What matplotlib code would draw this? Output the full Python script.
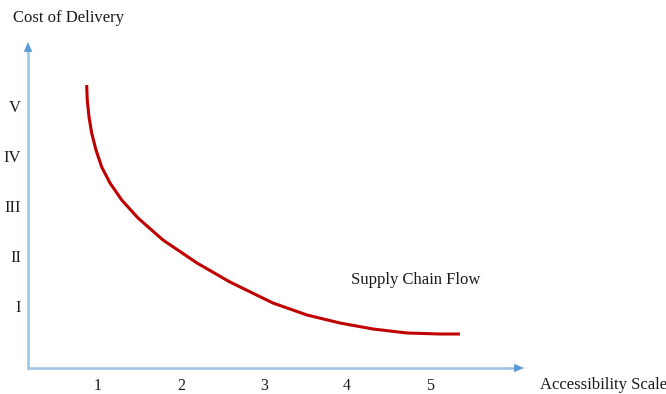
import matplotlib
matplotlib.use("Agg")
import matplotlib.pyplot as plt

# Data
curve_x = [0.864, 0.871, 0.892, 0.924, 0.976, 1.045, 1.145, 1.286, 1.482, 1.783,
           2.193, 2.590, 3.108, 3.518, 3.916, 4.313, 4.723, 5.120, 5.361]
curve_y = [5.42, 5.12, 4.78, 4.46, 4.12, 3.78, 3.46, 3.12, 2.76, 2.32,
           1.86, 1.48, 1.06, 0.82, 0.66, 0.54, 0.46, 0.44, 0.44]
x_ticks = [1, 2, 3, 4, 5]
x_labels = ["1", "2", "3", "4", "5"]
y_ticks = [1, 2, 3, 4, 5]
y_labels = ["I", "II", "III", "IV", "V"]

W, H = 666, 394
fig = plt.figure(figsize=(W / 100, H / 100), dpi=100)
plt.rcParams['font.family'] = ['Liberation Serif', 'DejaVu Serif']

ax = fig.add_axes([28 / W, 26 / H, (524 - 28) / W, (368 - 42) / H])
ax.set_xlim(0.157, 0.157 + 496 / 83)
ax.set_ylim(-0.24, 6.28)
for s in ax.spines.values():
    s.set_visible(False)
ax.patch.set_alpha(0)

ax.plot(curve_x, curve_y, color="#C00000", lw=2.2, solid_capstyle="butt",
        solid_joinstyle="round", zorder=3)

axis_line = "#9DC3E6"
head = "#5B9BD5"
ax.plot([0, 0.985], [0, 0], transform=ax.transAxes, color=axis_line, lw=1.8, clip_on=False)
ax.plot([0, 0], [0, 0.975], transform=ax.transAxes, color=axis_line, lw=1.8, clip_on=False)
ax.annotate("", xy=(1.0, 0), xytext=(0.97, 0), xycoords="axes fraction",
            arrowprops=dict(arrowstyle="-|>,head_length=0.7,head_width=0.3",
                            color=head, lw=0.1, shrinkA=0, shrinkB=0))
ax.annotate("", xy=(0, 1.0), xytext=(0, 0.96), xycoords="axes fraction",
            arrowprops=dict(arrowstyle="-|>,head_length=0.7,head_width=0.3",
                            color=head, lw=0.1, shrinkA=0, shrinkB=0))

ax.set_xticks(x_ticks)
ax.set_xticklabels(x_labels)
ax.set_yticks(y_ticks)
ax.set_yticklabels(y_labels)
ax.tick_params(axis="x", length=0, pad=7, labelsize=11.5, labelcolor="#1a1a1a")
ax.tick_params(axis="y", length=0, pad=5, labelsize=12, labelcolor="#1a1a1a")

fig.text(13 / W, 1 - 18 / H, "Cost of Delivery", ha="left", va="center",
         fontsize=12, color="#1a1a1a")
fig.text(540 / W, 1 - 385 / H, "Accessibility Scale", ha="left", va="center",
         fontsize=12, color="#1a1a1a")
fig.text(351 / W, 1 - 280 / H, "Supply Chain Flow", ha="left", va="center",
         fontsize=12, color="#1a1a1a")

fig.savefig("out.png", dpi=100)
